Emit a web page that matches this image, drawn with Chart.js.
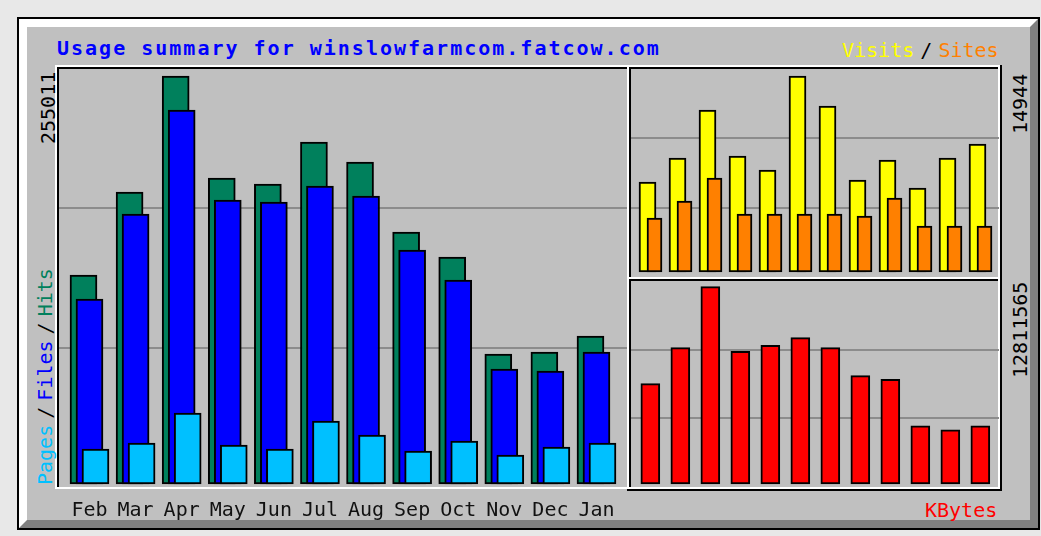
<!DOCTYPE html>
<html>
<head>
<meta charset="utf-8">
<script src="https://cdn.jsdelivr.net/npm/chart.js@4.4.1/dist/chart.umd.min.js"></script>
<style>
  body { margin: 0; width: 1041px; height: 536px; background: #e8e8e8; position: relative; overflow: hidden;
         font-family: 'DejaVu Sans Mono', monospace; }
  .abs { position: absolute; box-sizing: border-box; }
  #frame { left: 17px; top: 17px; width: 1023px; height: 513px; border: 2px solid #000; }
  #bevel { left: 19px; top: 19px; width: 1019px; height: 509px; border: 8px solid;
           border-color: #fff #808080 #808080 #fff; background: #c0c0c0; }
  .hi { border: 2px solid #fff; }
  .lo { border-top: 2px solid #000; border-left: 2px solid #000; }
  .txt { position: absolute; font-size: 20px; line-height: 20px; white-space: pre; }
  .rot { transform-origin: 0 0; transform: rotate(-90deg); }
  canvas { position: absolute; }
</style>
</head>
<body>
<div id="frame" class="abs"></div>
<div id="bevel" class="abs"></div>

<!-- plot boxes -->
<div class="abs hi" style="left:55px;top:65px;width:574px;height:424px"></div>
<div class="abs lo" style="left:57px;top:67px;width:570px;height:420px"></div>
<div class="abs hi" style="left:627px;top:65px;width:373px;height:214px"></div>
<div class="abs lo" style="left:629px;top:67px;width:369px;height:210px"></div>
<div class="abs hi" style="left:627px;top:277px;width:373px;height:212px"></div>
<div class="abs lo" style="left:629px;top:279px;width:369px;height:208px"></div>
<div class="abs" style="left:1000px;top:65px;width:2px;height:426px;background:#000"></div>
<div class="abs" style="left:627px;top:489px;width:375px;height:2px;background:#000"></div>

<div class="txt" style="left:57px;top:38px;color:#0000ff;font-weight:bold;letter-spacing:2px">Usage summary for winslowfarmcom.fatcow.com</div>
<div class="txt" style="left:842px;top:40px;word-spacing:-6px"><span style="color:#ffff00">Visits</span> <span style="color:#000">/</span> <span style="color:#ff8000">Sites</span></div>
<div class="txt" style="left:925px;top:500px;color:#ff0000">KBytes</div>

<div id="maxHits" class="txt rot" style="left:38px;top:144px;color:#000"></div>
<div class="txt rot" style="left:35px;top:485px;word-spacing:-6px"><span style="color:#00c0ff">Pages</span> <span style="color:#000">/</span> <span style="color:#0000ff">Files</span> <span style="color:#000">/</span> <span style="color:#00805c">Hits</span></div>
<div id="maxVisits" class="txt rot" style="left:1010px;top:134px;color:#000"></div>
<div id="maxKbytes" class="txt rot" style="left:1010px;top:378px;color:#000"></div>

<canvas id="mainChart" width="568" height="452" style="left:59px;top:69px"></canvas>
<canvas id="visitChart" width="368" height="208" style="left:631px;top:69px"></canvas>
<canvas id="kbyteChart" width="368" height="206" style="left:631px;top:281px"></canvas>

<script>
const months = ['Feb', 'Mar', 'Apr', 'May', 'Jun', 'Jul', 'Aug', 'Sep', 'Oct', 'Nov', 'Dec', 'Jan'];
const hits = [130600, 182500, 255011, 191250, 187500, 213750, 201250, 157500, 141900, 81250, 82500, 92500];
const files = [115600, 168750, 233750, 177500, 176250, 186250, 180000, 146250, 127500, 71900, 70600, 82500];
const pages = [21900, 25600, 44400, 24400, 21900, 39400, 30600, 20600, 26900, 18100, 23100, 25600];
const visits = [6862, 8691, 12351, 8844, 7776, 14944, 12656, 7014, 8539, 6404, 8691, 9759];
const sites = [4117, 5413, 7167, 4422, 4422, 4422, 4422, 4269, 5642, 3507, 3507, 3507];
const kbytes = [6516000, 8857000, 12811565, 8617000, 9007000, 9508000, 8857000, 7037000, 6796000, 3785000, 3525000, 3785000];

const topHits = Math.max(...hits);
const topVisits = Math.max(...visits);
const topKbytes = Math.max(...kbytes);
document.getElementById('maxHits').textContent = topHits;
document.getElementById('maxVisits').textContent = topVisits;
document.getElementById('maxKbytes').textContent = topKbytes;

Chart.defaults.font.family = "'DejaVu Sans Mono', monospace";

// bars sit side by side with a small shift, so x is a linear index scale
function pts(arr, shift) {
    return arr.map((v, i) => ({ x: i + shift, y: v }));
}

function bar(label, data, color, thickness) {
    return {
        label: label,
        data: data,
        backgroundColor: color,
        borderColor: '#000',
        borderWidth: 2,
        borderSkipped: false,
        barThickness: thickness,
        grouped: false
    };
}

// two grid lines at thirds of the plot box, like the original
function yScale(top, below, above) {
    return {
        min: -top * below,
        max: top * above,
        ticks: { display: false },
        border: { display: false },
        grid: { color: '#8c8c8c', lineWidth: 2, drawTicks: false },
        afterBuildTicks: s => {
            const step = (s.max - s.min) / 3;
            s.ticks = [{ value: s.min + step }, { value: s.min + 2 * step }];
        }
    };
}

const common = {
    responsive: false,
    animation: false,
    devicePixelRatio: 1,
    layout: { padding: 0 },
    plugins: { legend: { display: false }, tooltip: { enabled: false } }
};

const shiftMain = 6 / 46.09;
new Chart(document.getElementById('mainChart'), {
    type: 'bar',
    data: {
        datasets: [
            bar('Pages', pts(pages, shiftMain), '#00c0ff', 27),
            bar('Files', pts(files, 0), '#0000ff', 27),
            bar('Hits', pts(hits, -shiftMain), '#00805c', 27)
        ]
    },
    options: {
        ...common,
        scales: {
            x: {
                type: 'linear', min: -0.6617, max: 11.662, offset: false,
                grid: { display: false, drawTicks: false },
                border: { display: false },
                ticks: {
                    autoSkip: false, maxRotation: 0, padding: 12, color: '#111',
                    font: { size: 20 },
                    callback: v => months[v] ?? ''
                },
                afterBuildTicks: s => { s.ticks = months.map((m, i) => ({ value: i })); },
                afterFit: s => { s.height = 34; }
            },
            y: yScale(topHits, 0.007353, 1.01716)
        }
    }
});

const shiftRight = 3.5 / 30;
new Chart(document.getElementById('visitChart'), {
    type: 'bar',
    data: {
        datasets: [
            bar('Sites', pts(sites, shiftRight), '#ff8000', 15),
            bar('Visits', pts(visits, -shiftRight), '#ffff00', 17)
        ]
    },
    options: {
        ...common,
        scales: {
            x: { type: 'linear', display: false, min: -0.6667, max: 11.6, offset: false },
            y: yScale(topVisits, 0.02551, 1.03571)
        }
    }
});

new Chart(document.getElementById('kbyteChart'), {
    type: 'bar',
    data: {
        datasets: [
            bar('KBytes', pts(kbytes, 0), '#ff0000', 19)
        ]
    },
    options: {
        ...common,
        scales: {
            x: { type: 'linear', display: false, min: -0.645, max: 11.622, offset: false },
            y: yScale(topKbytes, 0.015205, 1.02889)
        }
    }
});
</script>
</body>
</html>
